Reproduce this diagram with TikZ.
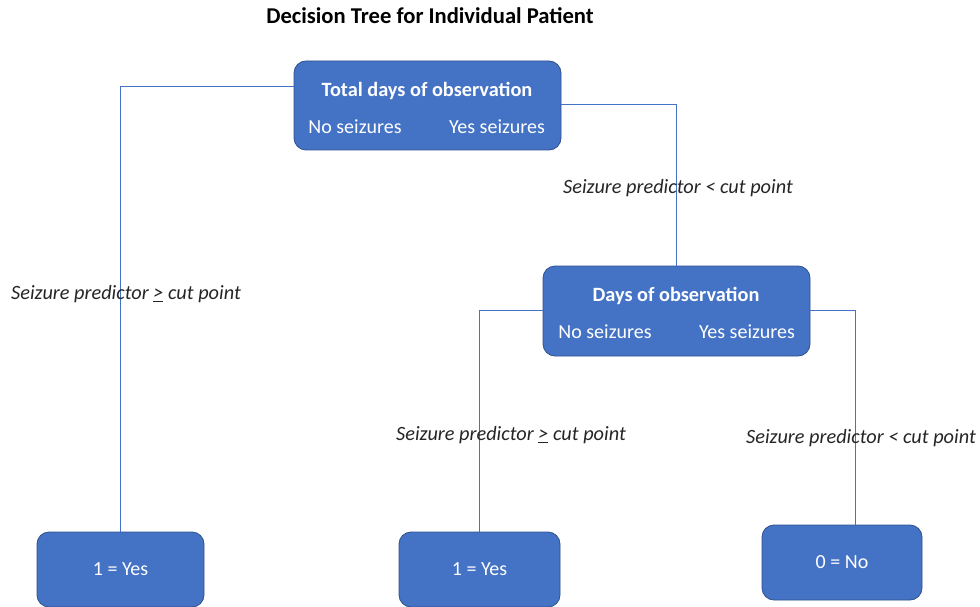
\documentclass[tikz,border=0pt]{standalone}
\usepackage{fontspec}
\setmainfont{Carlito}
\definecolor{boxblue}{HTML}{4472C4}
\definecolor{boxedge}{HTML}{2F528F}
\begin{document}
\begin{tikzpicture}[x=1pt,y=-1pt,
 box/.style={draw=boxedge, fill=boxblue, line width=0.8pt, rounded corners=12pt, inner sep=0pt},
 wtxt/.style={text=white, font=\fontsize{20}{24}\selectfont, inner sep=0pt},
 btxt/.style={text=white, font=\bfseries\fontsize{20.3}{24}\selectfont, inner sep=0pt},
 lbl/.style={font=\itshape\fontsize{20.3}{24}\selectfont, text=black!85, inner sep=0pt},
 conn/.style={draw=boxblue, line width=0.9pt}]
\useasboundingbox (0,0) rectangle (980,607);
\clip (0,0) rectangle (980,607);
\fill[white] (0,0) rectangle (980,607);
% title
\node[font=\bfseries\fontsize{22.6}{26}\selectfont, inner sep=0pt] (title) at (430,16) {Decision Tree for Individual Patient};
% boxes
\node[box, minimum width=267pt, minimum height=89pt] (top) at (427.5,105.5) {};
\node[box, minimum width=267pt, minimum height=90pt] (mid) at (676.5,311) {};
\node[box, minimum width=167pt, minimum height=75pt, wtxt] (bl) at (120.5,569.5) {1 = Yes};
\node[box, minimum width=161pt, minimum height=75pt, wtxt] (bm) at (479.5,569.5) {1 = Yes};
\node[box, minimum width=160pt, minimum height=75pt, wtxt] (br) at (842,562.5) {0 = No};
% connectors
\draw[conn] ([yshift=19.5pt]top.west) -| (bl.north);
\draw[conn] ([yshift=1.5pt]top.east) -| (mid.north);
\draw[conn] ([yshift=1pt]mid.west) -| (bm.north);
\draw[conn] ([yshift=1pt]mid.east) -| ([xshift=13pt]br.north);
% box texts
\node[btxt] (toptitle) at (427,91) {Total days of observation};
\node[wtxt] (topno) at (355,127) {No seizures};
\node[wtxt] (topyes) at (497,127) {Yes seizures};
\node[btxt] (midtitle) at (676,296) {Days of observation};
\node[wtxt] (midno) at (605,332) {No seizures};
\node[wtxt] (midyes) at (747,332) {Yes seizures};
% labels
\node[lbl] (l1) at (678,188) {Seizure predictor < cut point};
\node[lbl] (l2) at (126,294) {Seizure predictor \underline{>} cut point};
\node[lbl] (l3) at (511,435) {Seizure predictor \underline{>} cut point};
\node[lbl] (l4) at (861,438) {Seizure predictor < cut point};
\end{tikzpicture}
\end{document}
